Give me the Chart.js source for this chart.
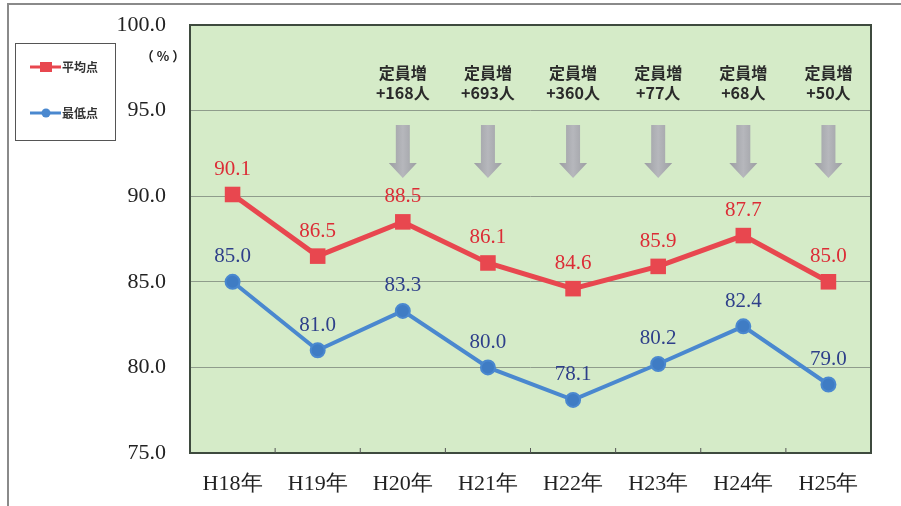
<!DOCTYPE html>
<html><head><meta charset="utf-8">
<script src="https://cdn.jsdelivr.net/npm/chart.js@4/dist/chart.umd.min.js"></script>
<style>html,body{margin:0;padding:0;background:#fff}#wrap{width:901px;height:506px}</style>
</head><body><div id="wrap"><canvas id="c" width="901" height="506"></canvas></div>
<script>
const categories = ['H18年','H19年','H20年','H21年','H22年','H23年','H24年','H25年'];
const averageScores = [90.1, 86.5, 88.5, 86.1, 84.6, 85.9, 87.7, 85.0];
const minimumScores = [85.0, 81.0, 83.3, 80.0, 78.1, 80.2, 82.4, 79.0];
const quotaIncrease = [null, null, 168, 693, 360, 77, 68, 50];
const seriesNames = ['平均点', '最低点'];
const yTicks = [75, 80, 85, 90, 95, 100];

const RED = '#e8474f', BLUE = '#4a88cf';
const SERIF = '"Liberation Serif", "DejaVu Serif", serif';
const CJK = '"Noto Sans CJK JP", sans-serif';

const decor = {
  id: 'decor',
  beforeDraw(chart) {
    const {ctx, chartArea: a} = chart;
    ctx.save();
    ctx.fillStyle = '#d5ebc8';
    ctx.fillRect(a.left, a.top, a.right - a.left, a.bottom - a.top);
    ctx.strokeStyle = '#8a8a8a'; ctx.lineWidth = 2;
    ctx.beginPath(); ctx.moveTo(8, 506); ctx.lineTo(8, 4); ctx.lineTo(901, 4); ctx.stroke();
    ctx.restore();
  },
  beforeDatasetsDraw(chart) {
    const {ctx, chartArea: a, scales: {x, y}} = chart;
    ctx.save();
    ctx.strokeStyle = '#3e4a3e'; ctx.lineWidth = 2;
    ctx.strokeRect(a.left, a.top, a.right - a.left, a.bottom - a.top);
    ctx.lineWidth = 1; ctx.strokeStyle = '#555';
    for (let i = 1; i < categories.length; i++) {
      const px = (x.getPixelForValue(i - 1) + x.getPixelForValue(i)) / 2;
      ctx.beginPath(); ctx.moveTo(px, a.bottom); ctx.lineTo(px, a.bottom - 5); ctx.stroke();
    }
    quotaIncrease.forEach((v, i) => {
      if (v == null) return;
      const cx = x.getPixelForValue(i);
      ctx.fillStyle = '#2a2a2a';
      ctx.font = 'bold 16px ' + CJK;
      ctx.textAlign = 'center'; ctx.textBaseline = 'middle';
      ctx.fillText('定員増', cx, 73);
      ctx.fillText('+' + v + '人', cx, 93);
      const g = ctx.createLinearGradient(cx - 14, 0, cx + 14, 0);
      g.addColorStop(0, '#9c9ea3'); g.addColorStop(0.5, '#b6b7bc'); g.addColorStop(1, '#9c9ea3');
      ctx.fillStyle = g;
      ctx.beginPath();
      ctx.moveTo(cx - 7, 125); ctx.lineTo(cx + 7, 125); ctx.lineTo(cx + 7, 163);
      ctx.lineTo(cx + 14, 163); ctx.lineTo(cx, 178); ctx.lineTo(cx - 14, 163);
      ctx.lineTo(cx - 7, 163); ctx.closePath(); ctx.fill();
    });
    ctx.restore();
  },
  afterDatasetsDraw(chart) {
    const {ctx, scales: {x, y}} = chart;
    ctx.save();
    ctx.font = '21px ' + SERIF;
    ctx.textAlign = 'center'; ctx.textBaseline = 'middle';
    averageScores.forEach((v, i) => {
      ctx.fillStyle = '#dc2c36';
      ctx.fillText(v.toFixed(1), x.getPixelForValue(i), y.getPixelForValue(v) - 25);
    });
    minimumScores.forEach((v, i) => {
      ctx.fillStyle = '#2e3f8a';
      ctx.fillText(v.toFixed(1), x.getPixelForValue(i), y.getPixelForValue(v) - 25);
    });
    ctx.fillStyle = '#222'; ctx.font = 'bold 13px ' + CJK;
    ctx.fillText('（ % ）', 163, 56);
    ctx.strokeStyle = '#555'; ctx.lineWidth = 1;
    ctx.strokeRect(15.5, 43.5, 100, 97);
    const items = [[RED, 'rect', 67, seriesNames[0]], [BLUE, 'circle', 113, seriesNames[1]]];
    items.forEach(([col, shape, ly, name]) => {
      ctx.strokeStyle = col; ctx.lineWidth = 3;
      ctx.beginPath(); ctx.moveTo(30, ly); ctx.lineTo(61, ly); ctx.stroke();
      ctx.fillStyle = col;
      if (shape === 'rect') ctx.fillRect(40, ly - 5, 12, 10);
      else { ctx.beginPath(); ctx.arc(46, ly, 4.5, 0, Math.PI * 2); ctx.fill(); }
      ctx.fillStyle = '#333'; ctx.font = 'bold 12px ' + CJK;
      ctx.textAlign = 'left';
      ctx.fillText(name, 62, ly);
    });
    ctx.restore();
  }
};

new Chart(document.getElementById('c'), {
  type: 'line',
  data: {
    labels: categories,
    datasets: [
      { label: seriesNames[0], data: averageScores, borderColor: RED, backgroundColor: RED,
        borderWidth: 5, pointStyle: 'rect', pointRadius: 11, pointBorderWidth: 0, tension: 0 },
      { label: seriesNames[1], data: minimumScores, borderColor: BLUE, backgroundColor: '#3f7cc4',
        borderWidth: 4, pointStyle: 'circle', pointRadius: 7, pointBorderColor: BLUE, pointBorderWidth: 2, tension: 0 }
    ]
  },
  options: {
    responsive: false, animation: false, devicePixelRatio: 1,
    layout: { padding: { top: 25, right: 30, left: 0, bottom: 0 } },
    plugins: { legend: { display: false }, tooltip: { enabled: false } },
    scales: {
      x: {
        offset: true,
        grid: { display: false },
        border: { display: false },
        ticks: { color: '#222', font: { family: SERIF, size: 22 }, padding: 10 },
        afterFit(s) { s.height = 53; s.paddingLeft = 0; s.paddingRight = 0; }
      },
      y: {
        min: 75, max: 100,
        afterBuildTicks(s) { s.ticks = yTicks.map(v => ({ value: v })); },
        grid: { color: '#8f9c8c', lineWidth: 1, drawTicks: false },
        border: { display: false },
        ticks: { color: '#222', font: { family: SERIF, size: 22 }, padding: 24,
                 callback: v => Number(v).toFixed(1) },
        afterFit(s) { s.width = 190; s.paddingTop = 0; s.paddingBottom = 0; }
      }
    }
  },
  plugins: [decor]
});
</script></body></html>
